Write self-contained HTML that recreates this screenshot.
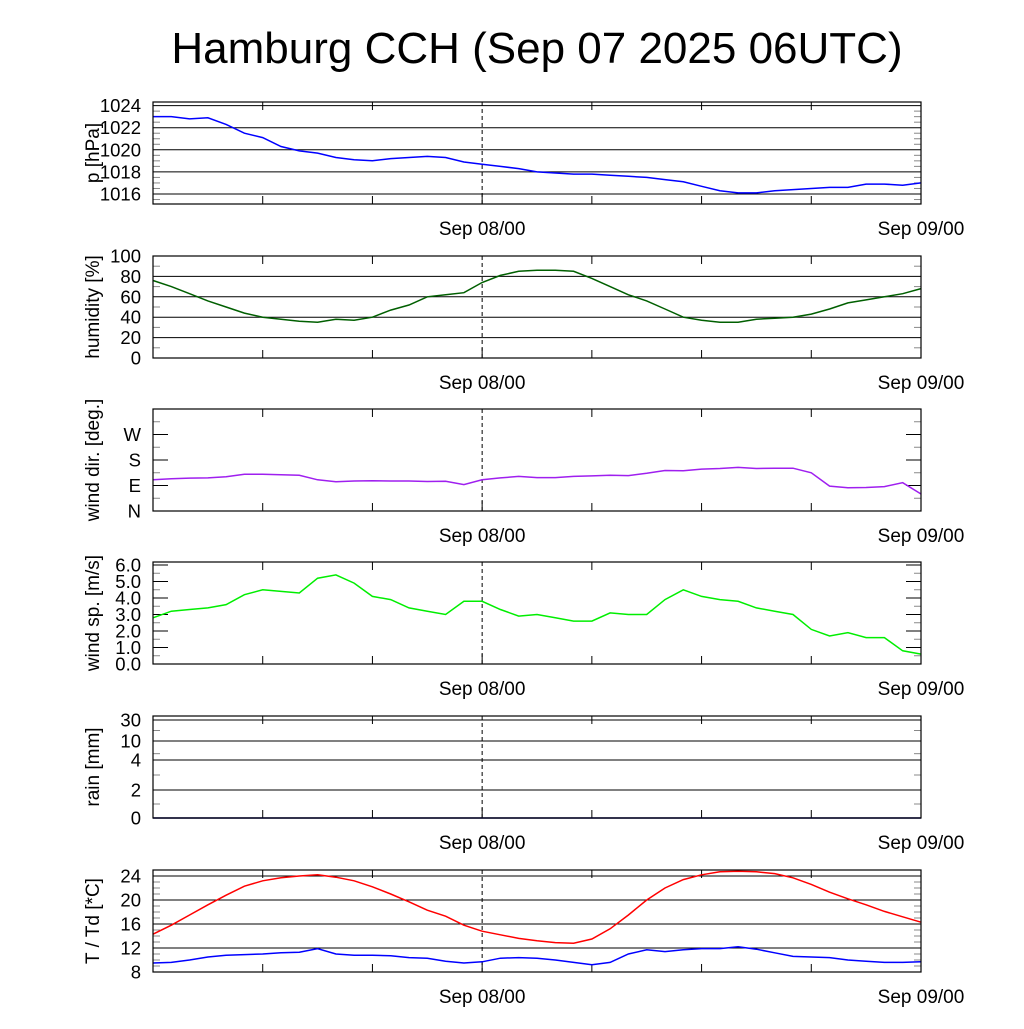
<!DOCTYPE html>
<html><head><meta charset="utf-8"><style>
body{margin:0;background:#fff}
svg text{font-family:"Liberation Sans",sans-serif}
</style></head><body>
<svg id="c" width="1024" height="1024" viewBox="0 0 1024 1024" xmlns="http://www.w3.org/2000/svg">
<rect width="1024" height="1024" fill="#fff"/>
<text x="537" y="63" font-size="44" text-anchor="middle">Hamburg CCH (Sep 07 2025 06UTC)</text>
</svg>
<script>
const hours = [0,1,2,3,4,5,6,7,8,9,10,11,12,13,14,15,16,17,18,19,20,21,22,23,24,25,26,27,28,29,30,31,32,33,34,35,36,37,38,39,40,41,42];
const pressure = [1023.0,1023.0,1022.8,1022.9,1022.3,1021.5,1021.1,1020.3,1019.9,1019.7,1019.3,1019.1,1019.0,1019.2,1019.3,1019.4,1019.3,1018.9,1018.7,1018.5,1018.3,1018.0,1017.9,1017.8,1017.8,1017.7,1017.6,1017.5,1017.3,1017.1,1016.7,1016.3,1016.1,1016.1,1016.3,1016.4,1016.5,1016.6,1016.6,1016.9,1016.9,1016.8,1017.0];
const humidity = [76,70,63,56,50,44,40,38,36,35,38,37,40,47,52,60,62,64,74,81,85,86,86,85,78,70,62,56,48,40,37,35,35,38,39,40,43,48,54,57,60,63,68];
const windDir = [110,114,116,117,121,130,130,128,126,110,103,106,107,106,106,104,105,93,110,117,122,118,118,122,124,126,125,133,143,142,148,150,154,150,151,151,135,88,82,83,86,100,60];
const windSpeed = [2.8,3.2,3.3,3.4,3.6,4.2,4.5,4.4,4.3,5.2,5.4,4.9,4.1,3.9,3.4,3.2,3.0,3.8,3.8,3.3,2.9,3.0,2.8,2.6,2.6,3.1,3.0,3.0,3.9,4.5,4.1,3.9,3.8,3.4,3.2,3.0,2.1,1.7,1.9,1.6,1.6,0.8,0.6];
const rain = [0,0,0,0,0,0,0,0,0,0,0,0,0,0,0,0,0,0,0,0,0,0,0,0,0,0,0,0,0,0,0,0,0,0,0,0,0,0,0,0,0,0,0];
const temp = [14.3,15.8,17.5,19.2,20.8,22.3,23.2,23.7,24.0,24.2,23.8,23.2,22.2,21.0,19.7,18.3,17.3,15.8,14.8,14.2,13.6,13.2,12.9,12.8,13.5,15.2,17.5,20.0,22.0,23.4,24.2,24.7,24.8,24.7,24.4,23.7,22.6,21.3,20.2,19.2,18.1,17.2,16.3];
const dew = [9.5,9.6,10.0,10.5,10.8,10.9,11.0,11.2,11.3,11.9,11.0,10.8,10.8,10.7,10.4,10.3,9.8,9.5,9.7,10.3,10.4,10.3,10.0,9.6,9.2,9.6,11.0,11.7,11.4,11.7,11.9,11.9,12.2,11.8,11.2,10.6,10.5,10.4,10.0,9.8,9.6,9.6,9.7];
const pTicks = [1016,1018,1020,1022,1024];
const hTicks = [0,20,40,60,80,100];
const dTicks = [0,90,180,270];
const dLabels = ["N","E","S","W"];
const sTicks = [0,1,2,3,4,5,6];
const rTicks = [0,2,4,10,30];
const tTicks = [8,12,16,20,24];

const NS="http://www.w3.org/2000/svg";
const svg=document.getElementById('c');
const X0=153,X1=921,H=42;
const xs=h=>X0+(X1-X0)*h/H;
function el(t,a,p){const e=document.createElementNS(NS,t);for(const k in a)e.setAttribute(k,a[k]);(p||svg).appendChild(e);return e;}
function lin(v0,v1,y0,y1){return v=>y0+(v-v0)*(y1-y0)/(v1-v0);}
function rainY(v){const vs=[0,2,4,10,30],ys=[818,790,760,741,720];for(let i=1;i<vs.length;i++){if(v<=vs[i])return ys[i-1]+(v-vs[i-1])*(ys[i]-ys[i-1])/(vs[i]-vs[i-1]);}return 720;}

function panel(name,top,bot,yf,ticks,labels,title,grid,minor,series){
  const g=el('g',{});
  
  
  ticks.forEach((t,i)=>{
    const y=yf(t);
    if(grid){const l=el('line',{x1:X0,x2:X1,y1:y,y2:y,stroke:'#000','stroke-width':1},g);}
    else{el('line',{x1:X0,x2:X0+15,y1:y,y2:y,stroke:'#000'},g);el('line',{x1:X1-15,x2:X1,y1:y,y2:y,stroke:'#000'},g);}
    const tx=el('text',{x:141,y:y+6.5,'font-size':18.5,'text-anchor':'end'},g);
    tx.textContent=labels?labels[i]:t;
    
    
  });
  minor.forEach(v=>{const y=yf(v);el('line',{x1:X0,x2:X0+7,y1:y,y2:y,stroke:'#888'},g);el('line',{x1:X1-7,x2:X1,y1:y,y2:y,stroke:'#888'},g);});
  [6,12,24,30,36].forEach(h=>{const x=xs(h);el('line',{x1:x,x2:x,y1:bot,y2:bot-8,stroke:'#000'},g);el('line',{x1:x,x2:x,y1:top,y2:top+8,stroke:'#000'},g);});
  el('line',{x1:xs(18),x2:xs(18),y1:top,y2:bot,stroke:'#000','stroke-dasharray':'4,3'},g);
  el('line',{x1:xs(18),x2:xs(18),y1:bot,y2:bot-10,stroke:'#000'},g);
  series.forEach(s=>{
    const pts=hours.map((h,i)=>xs(h).toFixed(1)+','+s.f(s.d[i]).toFixed(1)).join(' ');
    const p=el('polyline',{points:pts,fill:'none',stroke:s.c,'stroke-width':1.5},g);
    
    
  });
  const fr=el('rect',{x:X0,y:top,width:X1-X0,height:bot-top,fill:'none',stroke:'#000','stroke-width':1.2},g);
  
  
  const cy=(top+bot)/2;
  const yt=el('text',{x:0,y:0,'font-size':19,'text-anchor':'middle',transform:`translate(99,${cy}) rotate(-90)`},g);
  yt.textContent=title;
  
  
  [[18,'Sep 08/00'],[42,'Sep 09/00']].forEach(([h,t])=>{
    const xt=el('text',{x:xs(h),y:bot+31,'font-size':19,'text-anchor':'middle'},g);
    xt.textContent=t;
    
    
  });
}
const pY=lin(1016,1024,194,105.6);
panel('pressure',102,204,pY,pTicks,null,'p [hPa]',true,[1015.5,1016.5,1017,1017.5,1018.5,1019,1019.5,1020.5,1021,1021.5,1022.5,1023,1023.5],[{d:pressure,f:pY,c:'#0000ff',n:'pressure-line'}]);
const hY=lin(0,100,358,256);
panel('humidity',256,358,hY,hTicks,null,'humidity [%]',true,[10,30,50,70,90],[{d:humidity,f:hY,c:'#005f00',n:'humidity-line'}]);
const dY=lin(0,360,511,409);
panel('wind-dir',409,511,dY,dTicks,dLabels,'wind dir. [deg.]',false,[45,135,225,315],[{d:windDir,f:dY,c:'#9f1fef',n:'wind-dir-line'}]);
const sY=lin(0,6,664,565);
panel('wind-speed',562,664,sY,sTicks,sTicks.map(v=>v.toFixed(1)),'wind sp. [m/s]',false,[0.5,1.5,2.5,3.5,4.5,5.5],[{d:windSpeed,f:sY,c:'#00ee00',n:'wind-speed-line'}]);
panel('rain',716,818,rainY,rTicks,null,'rain [mm]',true,[1,3,6,20],[{d:rain,f:rainY,c:'#00007f',n:'rain-line'}]);
const tY=lin(8,24,972,876);
panel('temperature',870,972,tY,tTicks,null,'T / Td [*C]',true,[9,10,11,13,14,15,17,18,19,21,22,23],[{d:temp,f:tY,c:'#ff0000',n:'temperature-line'},{d:dew,f:tY,c:'#0000ff',n:'dewpoint-line'}]);
</script>
</body></html>
